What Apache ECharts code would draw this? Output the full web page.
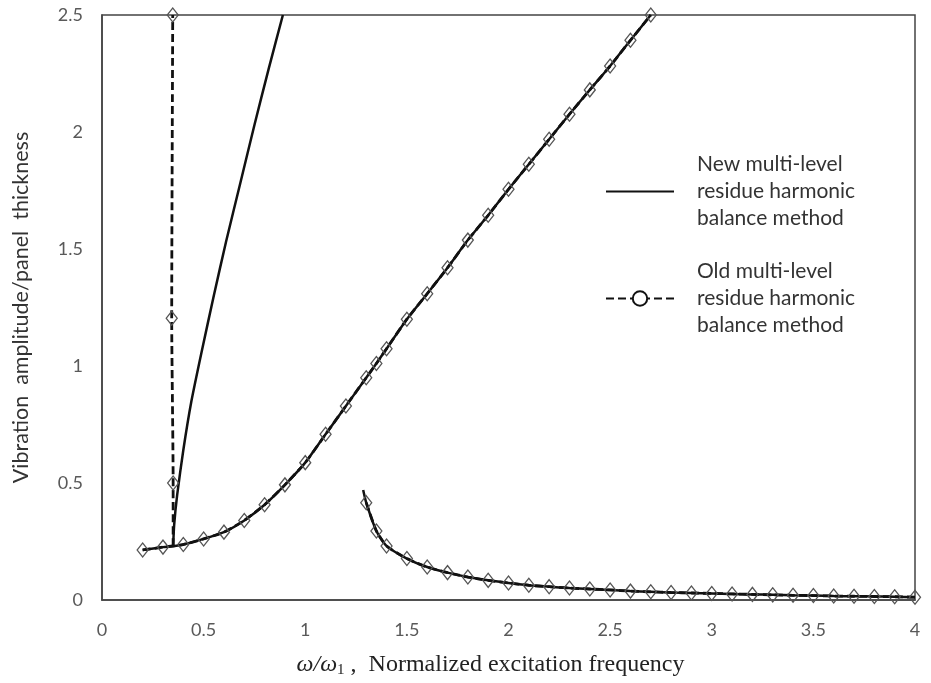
<!DOCTYPE html>
<html>
<head>
<meta charset="utf-8">
<script src="https://cdn.jsdelivr.net/npm/echarts@6/dist/echarts.min.js"></script>
<style>
  html, body { margin: 0; background: #fff; }
  #chart { width: 931px; height: 683px; }
</style>
</head>
<body>
<div id="chart"></div>
<script>
// series names (legend text)
var newName = 'New multi-level\nresidue harmonic\nbalance method';
var oldName = 'Old multi-level\nresidue harmonic\nbalance method';

// new method, main resonance curve
var newMain = [[0.2, 0.214], [0.3, 0.226], [0.35, 0.23], [0.4, 0.237], [0.5, 0.261], [0.6, 0.29],
  [0.7, 0.34], [0.8, 0.407], [0.9, 0.492], [1.0, 0.587], [1.1, 0.708], [1.2, 0.829], [1.3, 0.95],
  [1.35, 1.011], [1.4, 1.074], [1.5, 1.2], [1.6, 1.309], [1.7, 1.42], [1.8, 1.538], [1.9, 1.644],
  [2.0, 1.755], [2.1, 1.862], [2.2, 1.969], [2.3, 2.076], [2.4, 2.18], [2.5, 2.282], [2.6, 2.392], [2.7, 2.5]];
// new method, branch found near 0.35
var newBranch = [[0.35, 0.23], [0.355, 0.32], [0.37, 0.45], [0.40, 0.64], [0.44, 0.85], [0.49, 1.06],
  [0.55, 1.3], [0.61, 1.53], [0.68, 1.78], [0.75, 2.03], [0.82, 2.27], [0.89, 2.5]];
// new method, lower branch
var newLower = [[1.285, 0.47], [1.3, 0.416], [1.35, 0.295], [1.4, 0.231], [1.5, 0.177], [1.6, 0.141],
  [1.7, 0.117], [1.8, 0.098], [1.9, 0.084], [2.0, 0.073], [2.1, 0.063], [2.2, 0.057], [2.3, 0.051],
  [2.4, 0.047], [2.5, 0.043], [2.6, 0.038], [2.7, 0.035], [2.8, 0.032], [2.9, 0.03], [3.0, 0.028],
  [3.1, 0.026], [3.2, 0.024], [3.3, 0.022], [3.4, 0.02], [3.5, 0.019], [3.6, 0.017], [3.7, 0.016],
  [3.8, 0.015], [3.9, 0.014], [4.0, 0.012]];

// old method points
var oldMain = [[0.2, 0.214], [0.3, 0.226], [0.4, 0.237], [0.5, 0.261], [0.6, 0.29], [0.7, 0.34],
  [0.8, 0.407], [0.9, 0.492], [1.0, 0.587], [1.1, 0.708], [1.2, 0.829], [1.3, 0.95], [1.35, 1.011],
  [1.4, 1.074], [1.5, 1.2], [1.6, 1.309], [1.7, 1.42], [1.8, 1.538], [1.9, 1.644], [2.0, 1.755],
  [2.1, 1.862], [2.2, 1.969], [2.3, 2.076], [2.4, 2.18], [2.5, 2.282], [2.6, 2.392], [2.7, 2.5]];
var oldVertical = [[0.35, 0.5], [0.343, 1.204], [0.348, 2.5]];
var oldVerticalBase = [0.35, 0.23];
var oldLower = [[1.3, 0.416], [1.35, 0.295], [1.4, 0.231], [1.5, 0.177], [1.6, 0.141], [1.7, 0.117],
  [1.8, 0.098], [1.9, 0.084], [2.0, 0.073], [2.1, 0.063], [2.2, 0.057], [2.3, 0.051], [2.4, 0.047],
  [2.5, 0.043], [2.6, 0.038], [2.7, 0.035], [2.8, 0.032], [2.9, 0.03], [3.0, 0.028], [3.1, 0.026],
  [3.2, 0.024], [3.3, 0.022], [3.4, 0.02], [3.5, 0.019], [3.6, 0.017], [3.7, 0.016], [3.8, 0.015],
  [3.9, 0.014], [4.0, 0.012]];

var chart = echarts.init(document.getElementById('chart'));

var dashedLine = { color: '#111', width: 2.8, type: [8, 4] };
var solidLine = { color: '#111', width: 2.5 };

function oldLineSeries(data) {
  return {
    name: oldName, type: 'line', data: data, smooth: 0.2,
    symbol: 'emptyCircle', showSymbol: false, silent: true,
    itemStyle: { color: '#111' }, lineStyle: dashedLine, z: 2
  };
}
function newLineSeries(data) {
  return {
    name: newName, type: 'line', data: data, smooth: 0.2,
    symbol: 'none', silent: true,
    itemStyle: { color: '#111' }, lineStyle: solidLine, z: 3
  };
}
function markerSeries(data) {
  return {
    name: 'markers', type: 'line', data: data,
    symbol: 'diamond', symbolSize: [11, 14], showAllSymbol: true, silent: true,
    lineStyle: { width: 0 },
    itemStyle: { color: 'rgba(255,255,255,0)', borderColor: '#555', borderWidth: 1.3 },
    z: 4
  };
}

chart.setOption({
  animation: false,
  backgroundColor: '#fff',
  grid: {
    left: 102, right: 16, top: 15, bottom: 82,
    show: true, borderColor: '#444', borderWidth: 1.5
  },
  legend: {
    orient: 'vertical', left: 600, top: 146,
    itemWidth: 68, itemHeight: 18, itemGap: 26,
    selectedMode: false,
    textStyle: { fontFamily: 'Lato', fontSize: 21, lineHeight: 27, color: '#333', padding: [0, 0, 0, 18] },
    data: [
      { name: newName, itemStyle: { color: 'rgba(0,0,0,0)', borderWidth: 0 } },
      { name: oldName }
    ]
  },
  xAxis: {
    type: 'value', min: 0, max: 4, interval: 0.5,
    name: '{i|ω/ω}{s|1}{n| ,  Normalized excitation frequency}',
    nameLocation: 'middle', nameGap: 51,
    nameTextStyle: {
      rich: {
        i: { fontFamily: 'Liberation Serif', fontStyle: 'italic', fontSize: 24, color: '#222' },
        s: { fontFamily: 'Liberation Serif', fontSize: 15, color: '#222', verticalAlign: 'bottom', padding: [12, 0, 0, 0] },
        n: { fontFamily: 'Liberation Serif', fontSize: 24, color: '#222', padding: [0, 36, 0, 0] }
      }
    },
    axisLine: { lineStyle: { color: '#444', width: 1.5 } },
    axisTick: { show: false },
    splitLine: { show: false },
    axisLabel: { margin: 21, fontFamily: 'Lato', fontSize: 18, color: '#595959' }
  },
  yAxis: {
    type: 'value', min: 0, max: 2.5, interval: 0.5,
    name: 'Vibration  amplitude/panel  thickness',
    nameLocation: 'middle', nameGap: 70,
    nameTextStyle: { fontFamily: 'Lato', fontSize: 21.5, color: '#333' },
    axisLine: { show: true, lineStyle: { color: '#444', width: 1.5 } },
    axisTick: { show: false },
    splitLine: { show: false },
    axisLabel: { margin: 19, fontFamily: 'Lato', fontSize: 18, color: '#595959' }
  },
  series: [
    oldLineSeries(oldMain),
    oldLineSeries([oldVerticalBase].concat(oldVertical)),
    oldLineSeries(oldLower),
    newLineSeries(newMain),
    newLineSeries(newBranch),
    newLineSeries(newLower),
    markerSeries(oldMain),
    markerSeries(oldVertical),
    markerSeries(oldLower)
  ]
});
</script>
</body>
</html>
